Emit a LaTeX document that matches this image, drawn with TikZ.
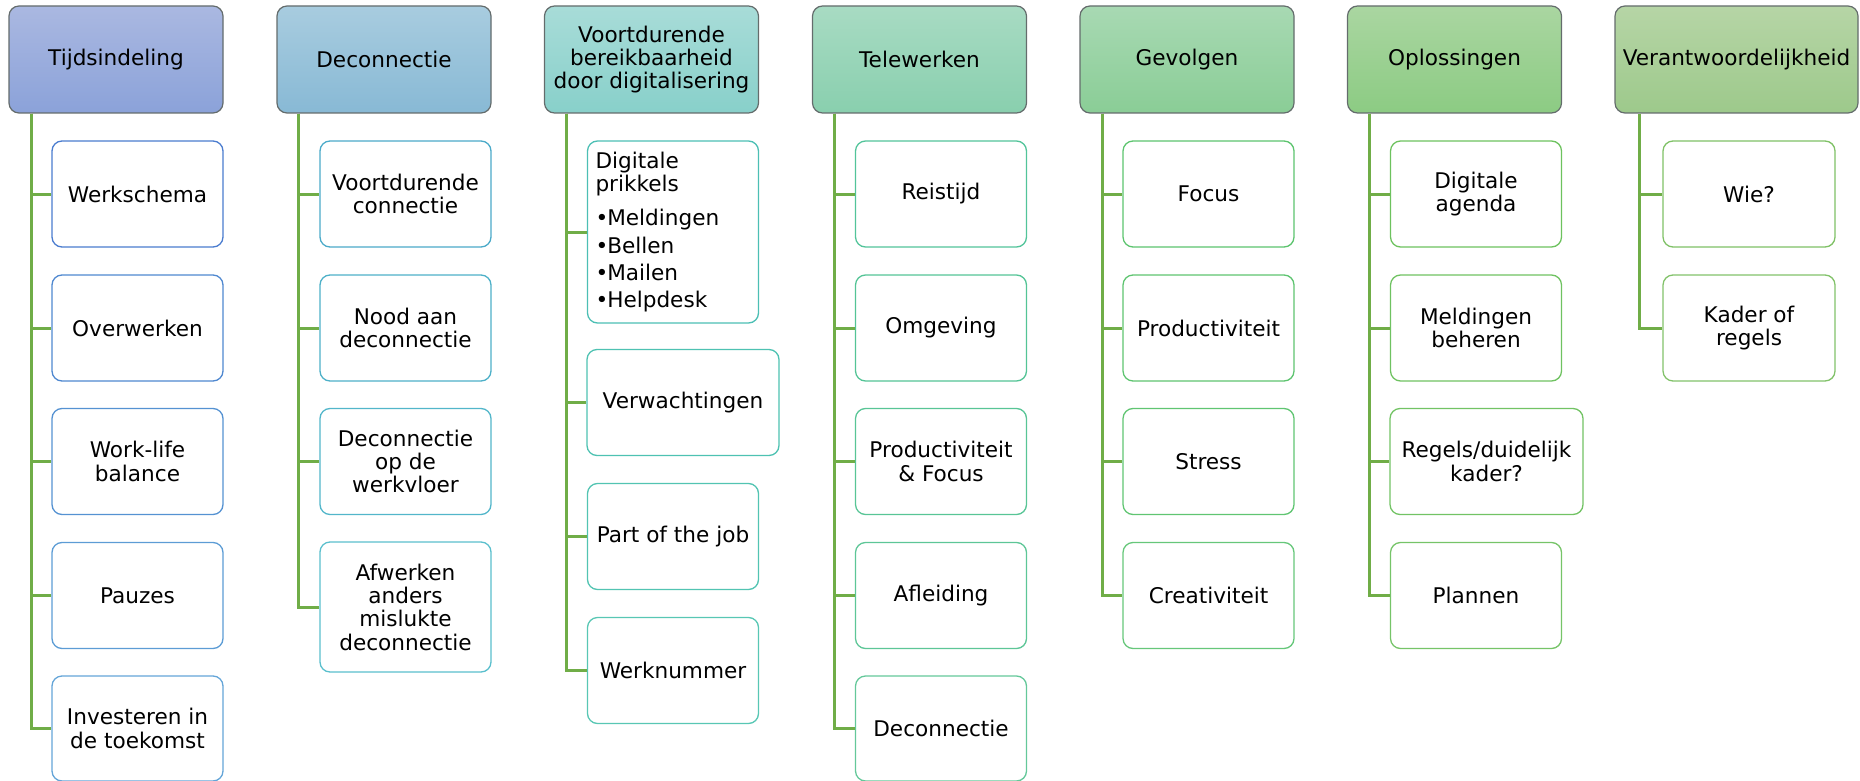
\documentclass[tikz,border=0pt]{standalone}
\usepackage{fontspec}
\setmainfont{DejaVu Sans}
\newcommand\boxfont{\fontsize{21.6}{23.3}\selectfont}
\definecolor{hdrline}{HTML}{646C6C}
\definecolor{connc}{HTML}{70AD47}
\definecolor{hAt}{HTML}{AAB8E1}\definecolor{hAb}{HTML}{8BA2D9}
\definecolor{hBt}{HTML}{A8CCDF}\definecolor{hBb}{HTML}{88B9D5}
\definecolor{hCt}{HTML}{A8DCD8}\definecolor{hCb}{HTML}{88D0CA}
\definecolor{hDt}{HTML}{A8DBC3}\definecolor{hDb}{HTML}{89CFAE}
\definecolor{hEt}{HTML}{A8D9B3}\definecolor{hEb}{HTML}{8ACD96}
\definecolor{hFt}{HTML}{AAD6A1}\definecolor{hFb}{HTML}{8CCB83}
\definecolor{hGt}{HTML}{B6D5A6}\definecolor{hGb}{HTML}{9DC98B}
\definecolor{bA1}{HTML}{4A7CCF}\definecolor{bA2}{HTML}{4F88D0}\definecolor{bA3}{HTML}{5592D2}\definecolor{bA4}{HTML}{5C9CD5}\definecolor{bA5}{HTML}{64A5D8}
\definecolor{bB1}{HTML}{4BAAC9}\definecolor{bB2}{HTML}{4DB0C8}\definecolor{bB3}{HTML}{52B6CA}\definecolor{bB4}{HTML}{5ABFCD}
\definecolor{bC1}{HTML}{4CBFB4}\definecolor{bC2}{HTML}{4EC2B2}\definecolor{bC3}{HTML}{52C4B2}\definecolor{bC4}{HTML}{58C7B4}
\definecolor{bD1}{HTML}{52C49A}\definecolor{bD2}{HTML}{54C496}\definecolor{bD3}{HTML}{58C596}\definecolor{bD4}{HTML}{5DC697}\definecolor{bD5}{HTML}{64C89A}
\definecolor{bE1}{HTML}{5CC46E}\definecolor{bE2}{HTML}{5EC470}\definecolor{bE3}{HTML}{60C572}\definecolor{bE4}{HTML}{66C77A}
\definecolor{bF1}{HTML}{6DC25E}\definecolor{bF2}{HTML}{6FC261}\definecolor{bF3}{HTML}{72C364}\definecolor{bF4}{HTML}{76C468}
\definecolor{bG1}{HTML}{7FC166}\definecolor{bG2}{HTML}{82C26A}
\tikzset{
  hdr/.style 2 args={draw=hdrline, line width=1.2pt, rounded corners=10pt,
    top color=#1, bottom color=#2, minimum width=214pt, minimum height=107pt,
    inner sep=0pt, align=center, font=\boxfont, text=black},
  kid/.style={draw=#1, fill=white, line width=1.3pt, rounded corners=10pt,
    minimum width=171pt, minimum height=106pt, inner sep=0pt, align=center,
    font=\boxfont, text=black},
  conn/.style={draw=connc, line width=3pt},
}
\begin{document}
\begin{tikzpicture}[x=1pt,y=-1pt]
\useasboundingbox (0,0) rectangle (1860,781);
% headers
\node[hdr={hAt}{hAb}] (h1) at (116,59.5) {Tijdsindeling};
\node[hdr={hBt}{hBb}] (h2) at (384,59.5) {Deconnectie};
\node[hdr={hCt}{hCb}] (h3) at (651.5,59.5) {Voortdurende\\bereikbaarheid\\door digitalisering};
\node[hdr={hDt}{hDb}] (h4) at (919.5,59.5) {Telewerken};
\node[hdr={hEt}{hEb}] (h5) at (1187,59.5) {Gevolgen};
\node[hdr={hFt}{hFb}] (h6) at (1454.5,59.5) {Oplossingen};
\node[hdr={hGt}{hGb}, minimum width=243pt] (h7) at (1736.5,59.5) {Verantwoordelijkheid};
% column 1
\node[kid=bA1] (a1) at (137.5,194) {Werkschema};
\node[kid=bA2] (a2) at (137.5,328) {Overwerken};
\node[kid=bA3] (a3) at (137.5,461.5) {Work-life\\balance};
\node[kid=bA4] (a4) at (137.5,595.5) {Pauzes};
\node[kid=bA5, minimum height=105pt] (a5) at (137.5,728.5) {Investeren in\\de toekomst};
% column 2
\node[kid=bB1] (b1) at (405.5,194) {Voortdurende\\connectie};
\node[kid=bB2] (b2) at (405.5,328) {Nood aan\\deconnectie};
\node[kid=bB3] (b3) at (405.5,461.5) {Deconnectie\\op de\\werkvloer};
\node[kid=bB4, minimum height=130pt] (b4) at (405.5,607) {Afwerken\\anders\\mislukte\\deconnectie};
% column 3
\node[kid=bC1, minimum height=182pt, text width=155pt, align=left, inner xsep=8pt] (c1) at (673,232)
  {Digitale\\prikkels\\[11pt]\textbullet\kern-1pt Meldingen\\[4pt]\textbullet\kern-1pt Bellen\\[4pt]\textbullet\kern-1pt Mailen\\[4pt]\textbullet\kern-1pt Helpdesk};
\node[kid=bC2, minimum width=192pt] (c2) at (683,402.5) {Verwachtingen};
\node[kid=bC3] (c3) at (673,536.5) {Part of the job};
\node[kid=bC4] (c4) at (673,670.5) {Werknummer};
% column 4
\node[kid=bD1] (d1) at (941,194) {Reistijd};
\node[kid=bD2] (d2) at (941,328) {Omgeving};
\node[kid=bD3] (d3) at (941,461.5) {Productiviteit\\\& Focus};
\node[kid=bD4] (d4) at (941,595.5) {Afleiding};
\node[kid=bD5, minimum height=105pt] (d5) at (941,728.5) {Deconnectie};
% column 5
\node[kid=bE1] (e1) at (1208.5,194) {Focus};
\node[kid=bE2] (e2) at (1208.5,328) {Productiviteit};
\node[kid=bE3] (e3) at (1208.5,461.5) {Stress};
\node[kid=bE4] (e4) at (1208.5,595.5) {Creativiteit};
% column 6
\node[kid=bF1] (f1) at (1476,194) {Digitale\\agenda};
\node[kid=bF2] (f2) at (1476,328) {Meldingen\\beheren};
\node[kid=bF3, minimum width=193pt] (f3) at (1486.5,461.5) {Regels/duidelijk\\kader?};
\node[kid=bF4] (f4) at (1476,595.5) {Plannen};
% column 7
\node[kid=bG1, minimum width=172pt] (g1) at (1749,194) {Wie?};
\node[kid=bG2, minimum width=172pt] (g2) at (1749,328) {Kader of\\regels};
% connector tops
\coordinate (t1) at (31,113.6);
\coordinate (t2) at (298,113.6);
\coordinate (t3) at (566,113.6);
\coordinate (t4) at (834,113.6);
\coordinate (t5) at (1102,113.6);
\coordinate (t6) at (1369,113.6);
\coordinate (t7) at (1639,113.6);
\foreach \n in {a1,a2,a3,a4,a5} \draw[conn] (t1) |- (\n.west);
\foreach \n in {b1,b2,b3,b4} \draw[conn] (t2) |- (\n.west);
\foreach \n in {c1,c2,c3,c4} \draw[conn] (t3) |- (\n.west);
\foreach \n in {d1,d2,d3,d4,d5} \draw[conn] (t4) |- (\n.west);
\foreach \n in {e1,e2,e3,e4} \draw[conn] (t5) |- (\n.west);
\foreach \n in {f1,f2,f3,f4} \draw[conn] (t6) |- (\n.west);
\foreach \n in {g1,g2} \draw[conn] (t7) |- (\n.west);
\end{tikzpicture}
\end{document}
